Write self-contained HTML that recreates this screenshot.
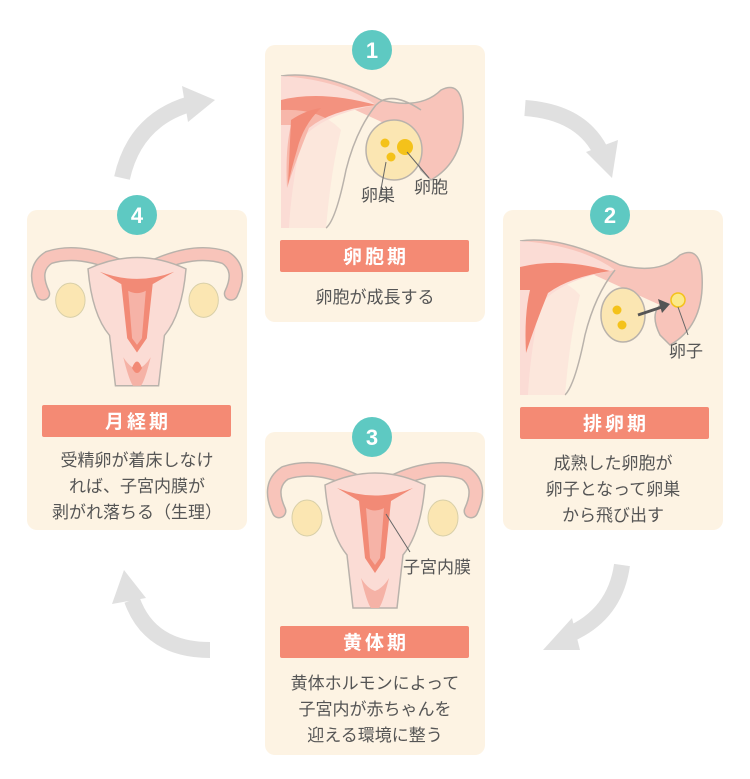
<!DOCTYPE html>
<html><head><meta charset="utf-8"><style>
html,body{margin:0;padding:0;background:#fff}
svg{display:block}
text{font-family:"Liberation Sans","Noto Sans CJK JP",sans-serif}
</style></head><body>
<svg width="750" height="779" viewBox="0 0 750 779" xmlns="http://www.w3.org/2000/svg">
<defs>
  <g id="ut">
    <path d="M -20 18 Q -60 0 -90 10 Q -108 22 -96 48" fill="none" stroke="#b9b2ab" stroke-width="15" stroke-linecap="round"/>
    <path d="M 20 18 Q 60 0 90 10 Q 108 22 96 48" fill="none" stroke="#b9b2ab" stroke-width="15" stroke-linecap="round"/>
    <path d="M -20 18 Q -60 0 -90 10 Q -108 22 -96 48" fill="none" stroke="#f8c4ba" stroke-width="12" stroke-linecap="round"/>
    <path d="M 20 18 Q 60 0 90 10 Q 108 22 96 48" fill="none" stroke="#f8c4ba" stroke-width="12" stroke-linecap="round"/>
    <ellipse cx="-68" cy="55" rx="15" ry="18" fill="#fbe6b2" stroke="#d8cfa8" stroke-width="1"/>
    <ellipse cx="68" cy="55" rx="15" ry="18" fill="#fbe6b2" stroke="#d8cfa8" stroke-width="1"/>
    <path d="M -50 22 Q 0 -2 50 22 Q 46 70 28 92 L 22 145 L -22 145 L -28 92 Q -46 70 -50 22 Z" fill="#fbdcd5" stroke="#b9b2ab" stroke-width="1.5"/>
    <path d="M -14 115 Q -8 140 -4 145 L 4 145 Q 8 140 14 115 Q 8 125 0 128 Q -8 125 -14 115 Z" fill="#f5b2a6"/>
    <path d="M -38 25 Q 0 40 38 25 L 16 38 L 10 95 L 0 110 L -10 95 L -16 38 Z" fill="#f28a76"/>
    <path d="M -9 45 Q 0 50 9 45 L 5 95 L 0 102 L -5 95 Z" fill="#f6b3a7"/>
  </g>
</defs>

<g fill="none" stroke="#e0e0e0" stroke-width="16">
  <path d="M 122 178 Q 135 120 190 104"/>
  <path d="M 525 108 Q 580 112 600 150"/>
  <path d="M 622 565 Q 615 615 568 635"/>
  <path d="M 210 650 Q 150 650 132 600"/>
</g>
<g fill="#e0e0e0">
  <polygon points="215,100 182,86 188,122"/>
  <polygon points="612,178 586,152 618,140"/>
  <polygon points="543,650 572,618 580,650"/>
  <polygon points="124,570 112,604 146,598"/>
</g>

<rect x="265" y="45" width="220" height="277" rx="10" fill="#fdf3e3"/>
<rect x="503" y="210" width="220" height="320" rx="10" fill="#fdf3e3"/>
<rect x="27" y="210" width="220" height="320" rx="10" fill="#fdf3e3"/>
<rect x="265" y="432" width="220" height="323" rx="10" fill="#fdf3e3"/>

<g transform="translate(281,70)">
  <path d="M 0 6 Q 40 0 100 30 Q 140 40 160 20 Q 180 10 182 40 Q 185 90 150 110 L 140 100 Q 130 80 140 70" fill="#f8c4ba" stroke="#b9b2ab" stroke-width="1.5"/>
  <path d="M 0 6 Q 60 10 95 35 Q 40 45 20 70 Q 10 120 8 158 L 0 158 Z" fill="#fbdcd5"/>
  <path d="M 95 35 Q 110 20 140 40" fill="none" stroke="#b9b2ab" stroke-width="1.5"/>
  <path d="M 0 30 Q 40 20 95 35 Q 50 40 28 58 Q 15 90 6 118 Q 4 80 10 55 L 0 55 Z" fill="#f28a76" opacity="0.9"/>
  <path d="M 95 35 Q 75 60 65 100 Q 55 150 45 158" fill="none" stroke="#b9b2ab" stroke-width="1.5"/>
  <path d="M 0 40 Q 40 38 60 60 Q 50 100 45 158 L 0 158 Z" fill="#fbdcd5" opacity="0.5"/>
  <path d="M 10 50 Q 25 40 40 38 Q 22 55 16 80 Q 10 100 7 115 Z" fill="#f28a76"/>
  <ellipse cx="113" cy="80" rx="28" ry="30" fill="#fbe6b2" stroke="#b9b2ab" stroke-width="1.5"/>
  <circle cx="104" cy="73" r="4.5" fill="#f4c21a"/>
  <circle cx="110" cy="87" r="4.5" fill="#f4c21a"/>
  <circle cx="124" cy="77" r="8" fill="#f4c21a"/>
  <line x1="105" y1="92" x2="98" y2="130" stroke="#666" stroke-width="1"/>
  <line x1="126" y1="82" x2="148" y2="108" stroke="#666" stroke-width="1"/>
</g>
<text x="361" y="201" font-size="17" fill="#555">卵巣</text>
<text x="414" y="193" font-size="17" fill="#555">卵胞</text>

<g transform="translate(520,235)">
  <path d="M 0 6 Q 40 0 100 30 Q 140 40 160 20 Q 180 10 182 40 Q 185 90 150 110 L 140 100 Q 130 80 140 70" fill="#f8c4ba" stroke="#b9b2ab" stroke-width="1.5"/>
  <path d="M 0 6 Q 60 10 95 35 Q 40 45 20 70 Q 10 120 8 160 L 0 160 Z" fill="#fbdcd5"/>
  <path d="M 95 35 Q 75 60 65 100 Q 55 150 45 160" fill="none" stroke="#b9b2ab" stroke-width="1.5"/>
  <path d="M 0 40 Q 40 38 60 60 Q 50 100 45 160 L 0 160 Z" fill="#fbdcd5" opacity="0.5"/>
  <path d="M 0 32 Q 40 22 90 36 Q 50 42 28 58 Q 15 90 6 118 Q 4 80 10 55 L 0 55 Z" fill="#f28a76"/>
  <ellipse cx="103" cy="80" rx="22" ry="27" fill="#fbe6b2" stroke="#b9b2ab" stroke-width="1.5"/>
  <circle cx="97" cy="75" r="4.5" fill="#f4c21a"/>
  <circle cx="102" cy="90" r="4.5" fill="#f4c21a"/>
  <path d="M 118 80 L 142 72" stroke="#555" stroke-width="3"/>
  <polygon points="150,69 138,64 142,78" fill="#555"/>
  <circle cx="158" cy="65" r="7" fill="#fbe98a" stroke="#f4c21a" stroke-width="1.5"/>
  <line x1="158" y1="72" x2="168" y2="100" stroke="#666" stroke-width="1"/>
</g>
<text x="669" y="357" font-size="17" fill="#555">卵子</text>

<use href="#ut" transform="translate(375,463)"/>
<line x1="386" y1="514" x2="410" y2="552" stroke="#666" stroke-width="1"/>
<text x="403" y="573" font-size="17" fill="#555">子宮内膜</text>
<use href="#ut" transform="translate(137,248) scale(0.98,0.95)"/>
<path d="M 132 368 Q 137 378 142 368 Q 137 355 132 368 Z" fill="#f28a76"/>

<g fill="#5ec9c2">
  <circle cx="372" cy="50" r="20"/>
  <circle cx="610" cy="215" r="20"/>
  <circle cx="137" cy="215" r="20"/>
  <circle cx="372" cy="437" r="20"/>
</g>
<g fill="#fff" font-size="22" font-weight="bold" text-anchor="middle">
  <text x="372" y="58">1</text>
  <text x="610" y="223">2</text>
  <text x="137" y="223">4</text>
  <text x="372" y="445">3</text>
</g>

<g fill="#f48a74">
  <rect x="280" y="240" width="189" height="32" rx="2"/>
  <rect x="520" y="407" width="189" height="32" rx="2"/>
  <rect x="42" y="405" width="189" height="32" rx="2"/>
  <rect x="280" y="626" width="189" height="32" rx="2"/>
</g>
<g fill="#fff" font-size="19" font-weight="bold" text-anchor="middle" letter-spacing="3">
  <text x="376" y="263">卵胞期</text>
  <text x="616" y="430">排卵期</text>
  <text x="138" y="428">月経期</text>
  <text x="376" y="649">黄体期</text>
</g>

<g fill="#555" font-size="17" text-anchor="middle">
  <text x="375" y="303">卵胞が成長する</text>
  <text x="613" y="469">成熟した卵胞が</text>
  <text x="613" y="495">卵子となって卵巣</text>
  <text x="613" y="521">から飛び出す</text>
  <text x="137" y="466">受精卵が着床しなけ</text>
  <text x="137" y="492">れば、子宮内膜が</text>
  <text x="137" y="518">剥がれ落ちる（生理）</text>
  <text x="375" y="689">黄体ホルモンによって</text>
  <text x="375" y="715">子宮内が赤ちゃんを</text>
  <text x="375" y="741">迎える環境に整う</text>
</g>
</svg>
</body></html>
